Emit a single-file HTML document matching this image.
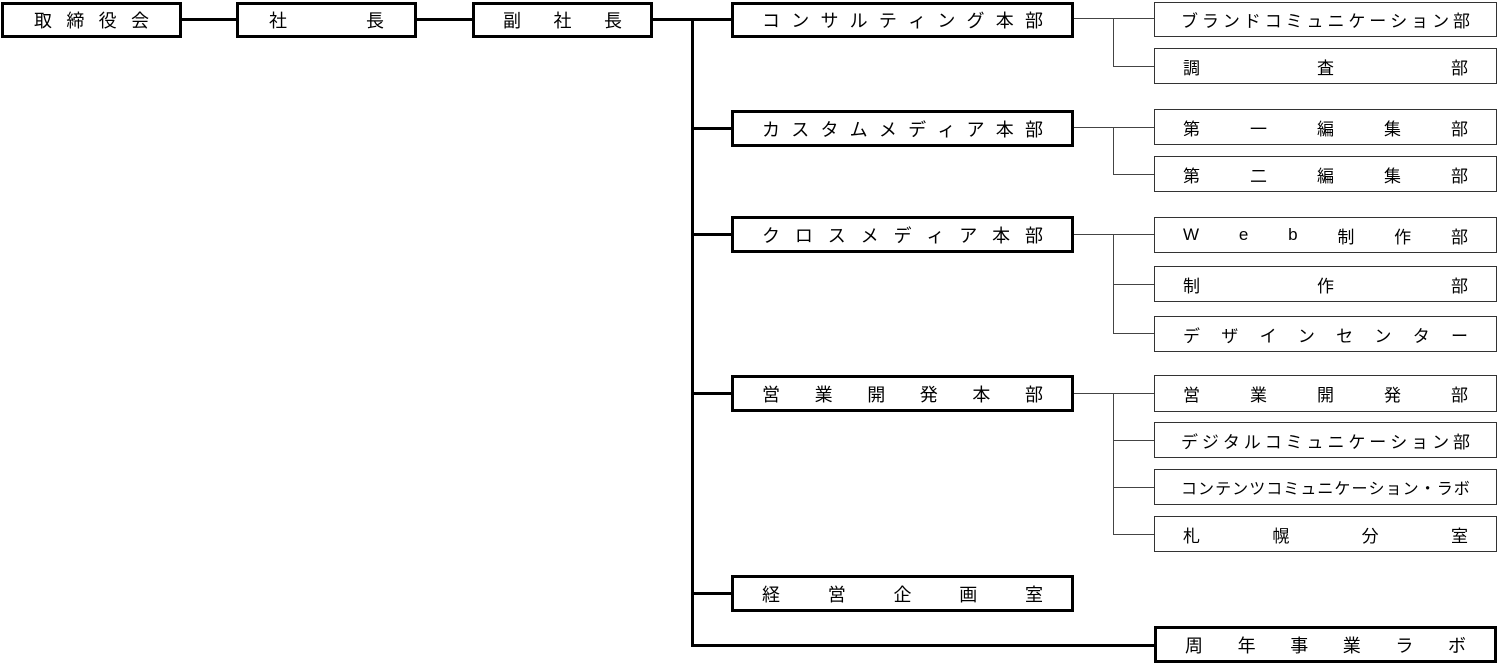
<!DOCTYPE html>
<html><head><meta charset="utf-8"><style>
body{margin:0;width:1497px;height:664px;background:#fff;position:relative;overflow:hidden;font-family:"Liberation Sans","Noto Sans CJK JP",sans-serif;}
.b{position:absolute;box-sizing:border-box;background:#fff;display:flex;justify-content:space-between;align-items:center;padding:0 28px;color:#000;}
.k{border:3px solid #000;font-size:18px;}
.t{border:1px solid #333;font-size:17px;}
.h{position:absolute;background:#000;}
.g{position:absolute;background:#444;}
</style></head><body>
<!-- thick lines -->
<div class="h" style="left:181px;top:18px;width:56px;height:3px"></div>
<div class="h" style="left:416px;top:18px;width:57px;height:3px"></div>
<div class="h" style="left:652px;top:18px;width:80px;height:3px"></div>
<div class="h" style="left:691px;top:18px;width:3px;height:629px"></div>
<div class="h" style="left:691px;top:127px;width:41px;height:3px"></div>
<div class="h" style="left:691px;top:233px;width:41px;height:3px"></div>
<div class="h" style="left:691px;top:392px;width:41px;height:3px"></div>
<div class="h" style="left:691px;top:592px;width:41px;height:3px"></div>
<div class="h" style="left:691px;top:644px;width:464px;height:3px"></div>
<!-- thin connectors -->
<div class="g" style="left:1073px;top:18px;width:81px;height:1px"></div>
<div class="g" style="left:1113px;top:18px;width:1px;height:48px"></div>
<div class="g" style="left:1113px;top:66px;width:41px;height:1px"></div>
<div class="g" style="left:1073px;top:127px;width:81px;height:1px"></div>
<div class="g" style="left:1113px;top:127px;width:1px;height:47px"></div>
<div class="g" style="left:1113px;top:174px;width:41px;height:1px"></div>
<div class="g" style="left:1073px;top:234px;width:81px;height:1px"></div>
<div class="g" style="left:1113px;top:234px;width:1px;height:99px"></div>
<div class="g" style="left:1113px;top:284px;width:41px;height:1px"></div>
<div class="g" style="left:1113px;top:333px;width:41px;height:1px"></div>
<div class="g" style="left:1073px;top:393px;width:81px;height:1px"></div>
<div class="g" style="left:1113px;top:393px;width:1px;height:141px"></div>
<div class="g" style="left:1113px;top:440px;width:41px;height:1px"></div>
<div class="g" style="left:1113px;top:487px;width:41px;height:1px"></div>
<div class="g" style="left:1113px;top:534px;width:41px;height:1px"></div>
<!-- thick boxes -->
<div class="b k" style="left:1px;top:2px;width:181px;height:36px;padding:0 30px"><span>取</span><span>締</span><span>役</span><span>会</span></div>
<div class="b k" style="left:236px;top:2px;width:181px;height:36px;padding:0 30px"><span>社</span><span>長</span></div>
<div class="b k" style="left:472px;top:2px;width:181px;height:36px;padding:0 28px"><span>副</span><span>社</span><span>長</span></div>
<div class="b k" style="left:731px;top:2px;width:343px;height:36px"><span>コ</span><span>ン</span><span>サ</span><span>ル</span><span>テ</span><span>ィ</span><span>ン</span><span>グ</span><span>本</span><span>部</span></div>
<div class="b k" style="left:731px;top:110px;width:343px;height:37px"><span>カ</span><span>ス</span><span>タ</span><span>ム</span><span>メ</span><span>デ</span><span>ィ</span><span>ア</span><span>本</span><span>部</span></div>
<div class="b k" style="left:731px;top:216px;width:343px;height:37px"><span>ク</span><span>ロ</span><span>ス</span><span>メ</span><span>デ</span><span>ィ</span><span>ア</span><span>本</span><span>部</span></div>
<div class="b k" style="left:731px;top:375px;width:343px;height:37px"><span>営</span><span>業</span><span>開</span><span>発</span><span>本</span><span>部</span></div>
<div class="b k" style="left:731px;top:575px;width:343px;height:37px"><span>経</span><span>営</span><span>企</span><span>画</span><span>室</span></div>
<div class="b k" style="left:1154px;top:626px;width:343px;height:37px"><span>周</span><span>年</span><span>事</span><span>業</span><span>ラ</span><span>ボ</span></div>
<!-- thin boxes -->
<div class="b t" style="left:1154px;top:2px;width:343px;height:35px;padding:0 26px"><span>ブ</span><span>ラ</span><span>ン</span><span>ド</span><span>コ</span><span>ミ</span><span>ュ</span><span>ニ</span><span>ケ</span><span>ー</span><span>シ</span><span>ョ</span><span>ン</span><span>部</span></div>
<div class="b t" style="left:1154px;top:48px;width:343px;height:36px"><span>調</span><span>査</span><span>部</span></div>
<div class="b t" style="left:1154px;top:109px;width:343px;height:36px"><span>第</span><span>一</span><span>編</span><span>集</span><span>部</span></div>
<div class="b t" style="left:1154px;top:156px;width:343px;height:36px"><span>第</span><span>二</span><span>編</span><span>集</span><span>部</span></div>
<div class="b t" style="left:1154px;top:217px;width:343px;height:36px"><span>W</span><span>e</span><span>b</span><span>制</span><span>作</span><span>部</span></div>
<div class="b t" style="left:1154px;top:266px;width:343px;height:36px"><span>制</span><span>作</span><span>部</span></div>
<div class="b t" style="left:1154px;top:316px;width:343px;height:36px"><span>デ</span><span>ザ</span><span>イ</span><span>ン</span><span>セ</span><span>ン</span><span>タ</span><span>ー</span></div>
<div class="b t" style="left:1154px;top:375px;width:343px;height:37px"><span>営</span><span>業</span><span>開</span><span>発</span><span>部</span></div>
<div class="b t" style="left:1154px;top:422px;width:343px;height:36px;padding:0 26px"><span>デ</span><span>ジ</span><span>タ</span><span>ル</span><span>コ</span><span>ミ</span><span>ュ</span><span>ニ</span><span>ケ</span><span>ー</span><span>シ</span><span>ョ</span><span>ン</span><span>部</span></div>
<div class="b t" style="left:1154px;top:469px;width:343px;height:36px;padding:0 26px;font-size:16px"><span>コ</span><span>ン</span><span>テ</span><span>ン</span><span>ツ</span><span>コ</span><span>ミ</span><span>ュ</span><span>ニ</span><span>ケ</span><span>ー</span><span>シ</span><span>ョ</span><span>ン</span><span>・</span><span>ラ</span><span>ボ</span></div>
<div class="b t" style="left:1154px;top:516px;width:343px;height:36px"><span>札</span><span>幌</span><span>分</span><span>室</span></div>
</body></html>
